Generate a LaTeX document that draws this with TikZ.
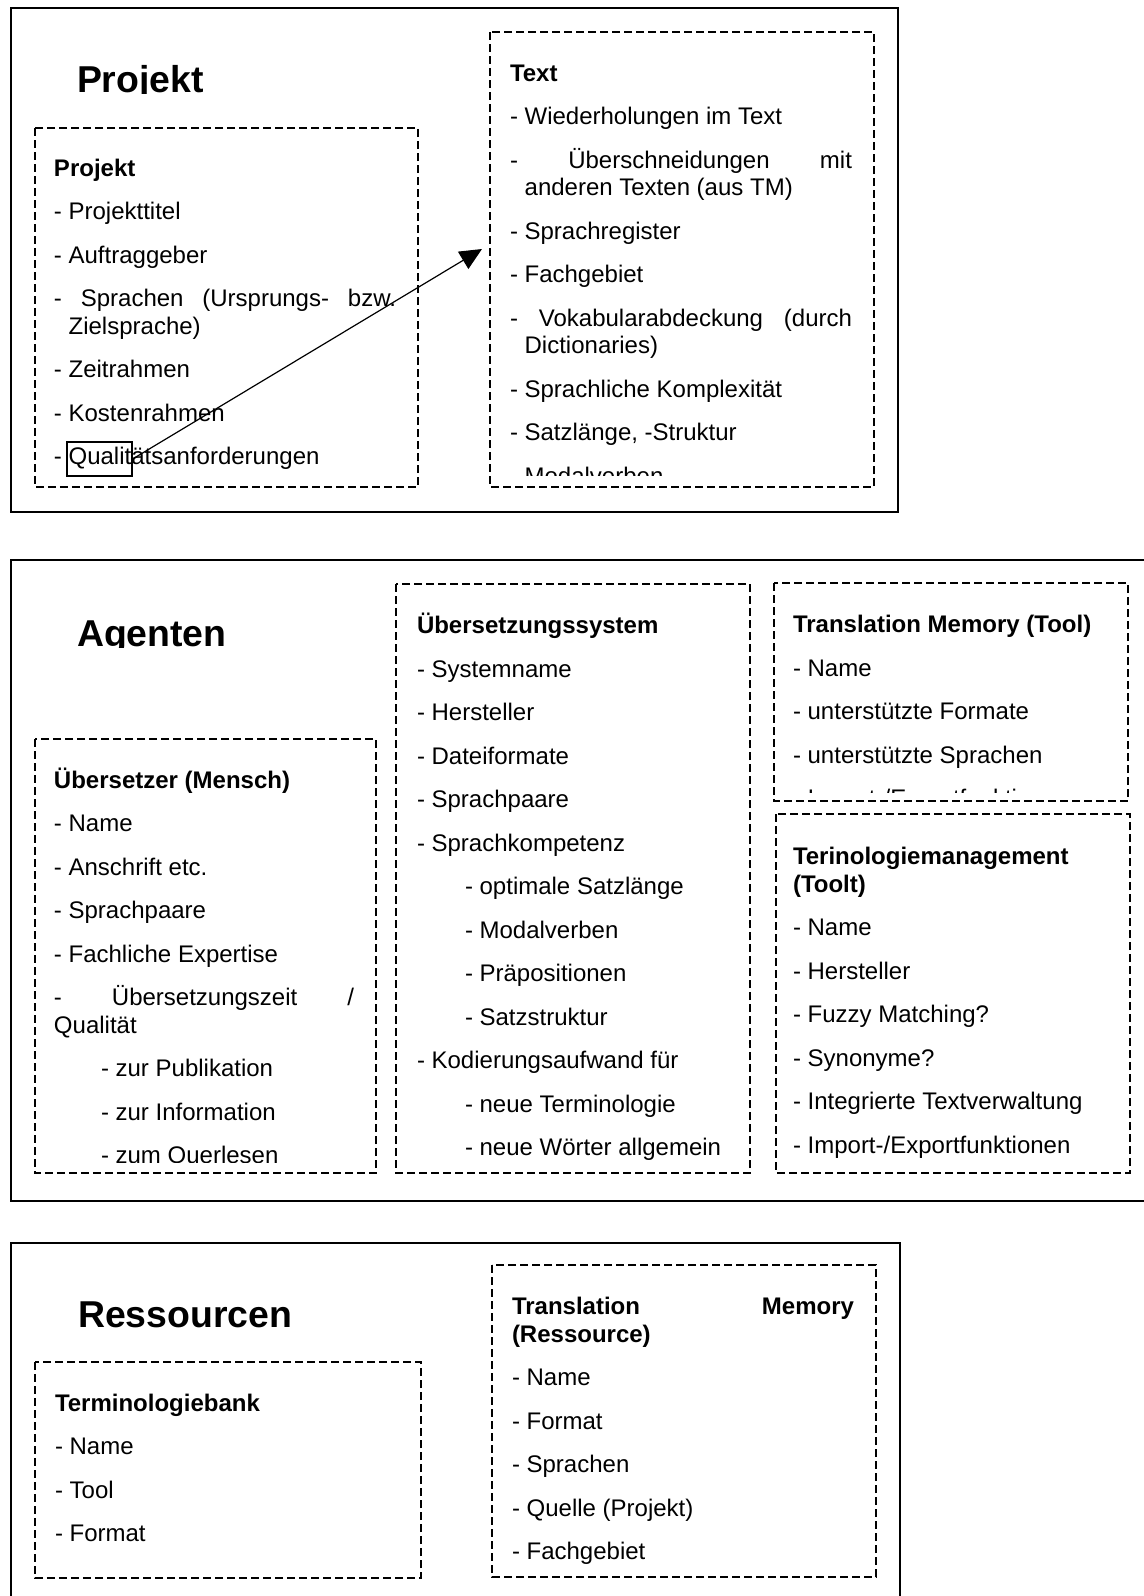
\documentclass[tikz,border=0pt]{standalone}
\usepackage{fontspec}
\setmainfont{Liberation Sans}
\usetikzlibrary{arrows.meta}
\tikzset{
  panel/.style={draw, line width=0.9pt},
  dbox/.style={draw, line width=0.7pt, dash pattern=on 3.8pt off 2.2pt},
  txt/.style={inner sep=0pt, outer sep=0pt, anchor=base west, font=\fontsize{12pt}{13.75pt}\selectfont},
  hd/.style={txt, font=\fontsize{12pt}{13.75pt}\selectfont\bfseries},
  ttl/.style={inner sep=0pt, outer sep=0pt, anchor=base west, font=\fontsize{18.7pt}{21pt}\selectfont\bfseries},
  arr/.style={line width=0.6pt, -{Triangle[length=11pt,width=10pt]}}
}
\newcommand{\jline}[2]{\makebox[#1][s]{#2}}
\begin{document}
\begin{tikzpicture}[x=0.5pt,y=-0.5pt]
\useasboundingbox (0,0) rectangle (1144,1596);

% ================= Panel 1 =================
\draw[panel] (11,8) rectangle (898,512);
\begin{scope}
  \clip (40,40) rectangle (400,93.5);
  \node[ttl] (t1) at (77,92) {Projekt};
\end{scope}
\draw[dbox] (35,128) rectangle (418,487);
\draw[dbox] (490,32) rectangle (874,487);

\node[hd]  (p1h) at (54,176) {Projekt};
\node[txt] (p1a) at (54,219.5) {- Projekttitel};
\node[txt] (p1b) at (54,263) {- Auftraggeber};
\node[txt] (p1c) at (54,306.5) {\jline{171pt}{- Sprachen (Ursprungs- bzw.}};
\node[txt] (p1c2) at (54,334) {\phantom{- }Zielsprache)};
\node[txt] (p1d) at (54,377.5) {- Zeitrahmen};
\node[txt] (p1e) at (54,421) {- Kostenrahmen};
\node[txt] (p1f) at (54,464.5) {- Qualitätsanforderungen};

\begin{scope}
  \clip (495,40) rectangle (870,475.5);
  \node[hd]  (p1rh) at (510,81) {Text};
  \node[txt] (p1ra) at (510,124.5) {- Wiederholungen im Text};
  \node[txt] (p1rb) at (510,168) {\jline{171pt}{- Überschneidungen mit}};
  \node[txt] (p1rb2) at (510,195.5) {\phantom{- }anderen Texten (aus TM)};
  \node[txt] (p1rc) at (510,239) {- Sprachregister};
  \node[txt] (p1rd) at (510,282.5) {- Fachgebiet};
  \node[txt] (p1re) at (510,326) {\jline{171pt}{- Vokabularabdeckung (durch}};
  \node[txt] (p1re2) at (510,353.5) {\phantom{- }Dictionaries)};
  \node[txt] (p1rf) at (510,397) {- Sprachliche Komplexität};
  \node[txt] (p1rg) at (510,440.5) {- Satzlänge, -Struktur};
  \node[txt] (p1rh2) at (510,484) {- Modalverben};
\end{scope}

\node[draw, line width=0.6pt, minimum width=32.5pt, minimum height=17pt, inner sep=0pt] (qbox) at (99.5,459) {};
\coordinate (tip) at (482,249);
\draw[arr] (qbox.east) -- (tip);

% ================= Panel 2 =================
\draw[panel] (1144,560) -- (11,560) -- (11,1201) -- (1144,1201);
\begin{scope}
  \clip (40,590) rectangle (380,647.5);
  \node[ttl] (t2) at (77,646) {Agenten};
\end{scope}
\draw[dbox] (35,739) rectangle (376,1173);
\draw[dbox] (396,584) rectangle (750,1173);
\draw[dbox] (774,583) rectangle (1128,801);
\draw[dbox] (776,814) rectangle (1130,1173);

\begin{scope}
  \clip (40,745) rectangle (372,1162);
  \node[hd]  (a1h) at (54,788) {Übersetzer (Mensch)};
  \node[txt] (a1a) at (54,831.5) {- Name};
  \node[txt] (a1b) at (54,875) {- Anschrift etc.};
  \node[txt] (a1c) at (54,918.5) {- Sprachpaare};
  \node[txt] (a1d) at (54,962) {- Fachliche Expertise};
  \node[txt] (a1e) at (54,1005.5) {\jline{150pt}{- Übersetzungszeit /}};
  \node[txt] (a1e2) at (54,1033) {Qualität};
  \node[txt] (a1f) at (101,1076.5) {- zur Publikation};
  \node[txt] (a1g) at (101,1120) {- zur Information};
  \node[txt] (a1h2) at (101,1163.5) {- zum Querlesen};
\end{scope}

\node[hd]  (a2h) at (417,633.5) {Übersetzungssystem};
\node[txt] (a2a) at (417,677) {- Systemname};
\node[txt] (a2b) at (417,720.5) {- Hersteller};
\node[txt] (a2c) at (417,764) {- Dateiformate};
\node[txt] (a2d) at (417,807.5) {- Sprachpaare};
\node[txt] (a2e) at (417,851) {- Sprachkompetenz};
\node[txt] (a2f) at (465,894.5) {- optimale Satzlänge};
\node[txt] (a2g) at (465,938) {- Modalverben};
\node[txt] (a2h2) at (465,981.5) {- Präpositionen};
\node[txt] (a2i) at (465,1025) {- Satzstruktur};
\node[txt] (a2j) at (417,1068.5) {- Kodierungsaufwand für};
\node[txt] (a2k) at (465,1112) {- neue Terminologie};
\node[txt] (a2l) at (465,1155.5) {- neue Wörter allgemein};

\begin{scope}
  \clip (780,590) rectangle (1124,792);
  \node[hd]  (a3h) at (793,632.5) {Translation Memory (Tool)};
  \node[txt] (a3a) at (793,676) {- Name};
  \node[txt] (a3b) at (793,719.5) {- unterstützte Formate};
  \node[txt] (a3c) at (793,763) {- unterstützte Sprachen};
  \node[txt] (a3d) at (793,806.5) {- Import-/Exportfunktionen};
\end{scope}

\node[hd]  (a4h) at (793,864.5) {Terinologiemanagement};
\node[hd]  (a4h2) at (793,892) {(Toolt)};
\node[txt] (a4a) at (793,935.5) {- Name};
\node[txt] (a4b) at (793,979) {- Hersteller};
\node[txt] (a4c) at (793,1022.5) {- Fuzzy Matching?};
\node[txt] (a4d) at (793,1066) {- Synonyme?};
\node[txt] (a4e) at (793,1109.5) {- Integrierte Textverwaltung};
\node[txt] (a4f) at (793,1153) {- Import-/Exportfunktionen};

% ================= Panel 3 =================
\draw[panel] (11,1596) -- (11,1243) -- (900,1243) -- (900,1596);
\node[ttl] (t3) at (78,1327) {Ressourcen};
\draw[dbox] (35,1362) rectangle (421,1578);
\draw[dbox] (492,1265) rectangle (876,1577);

\node[hd]  (r1h) at (55,1411) {Terminologiebank};
\node[txt] (r1a) at (55,1454.5) {- Name};
\node[txt] (r1b) at (55,1498) {- Tool};
\node[txt] (r1c) at (55,1541.5) {- Format};

\node[hd]  (r2h) at (512,1314.5) {\jline{171pt}{Translation Memory}};
\node[hd]  (r2h2) at (512,1342) {(Ressource)};
\node[txt] (r2a) at (512,1385.5) {- Name};
\node[txt] (r2b) at (512,1429) {- Format};
\node[txt] (r2c) at (512,1472.5) {- Sprachen};
\node[txt] (r2d) at (512,1516) {- Quelle (Projekt)};
\node[txt] (r2e) at (512,1559.5) {- Fachgebiet};
\end{tikzpicture}
\end{document}
